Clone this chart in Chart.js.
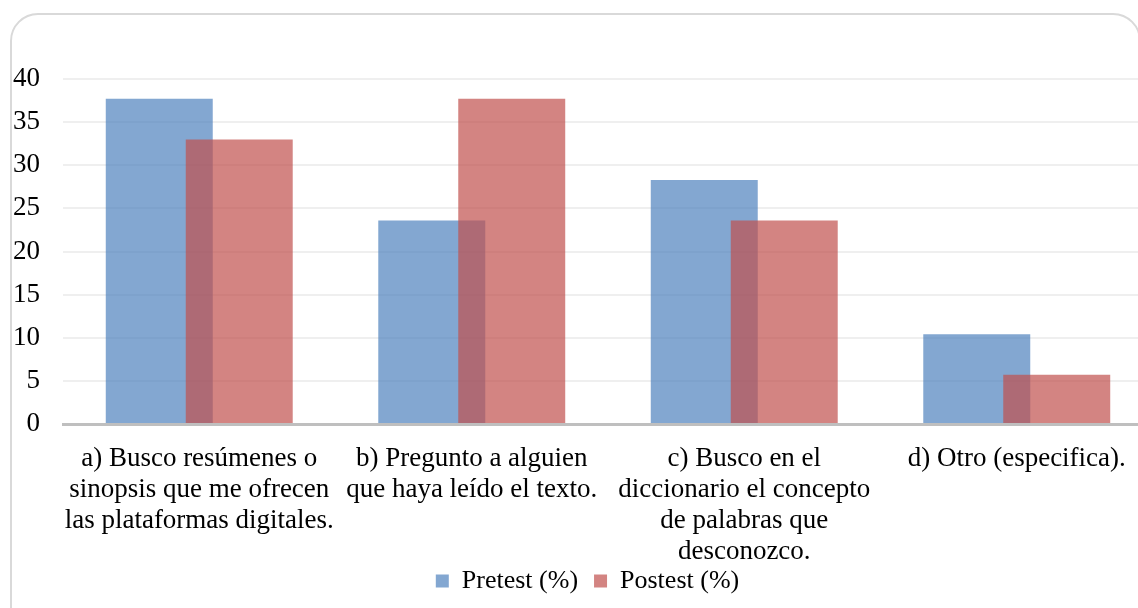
<!DOCTYPE html>
<html><head><meta charset="utf-8">
<script src="https://cdn.jsdelivr.net/npm/chart.js@4"></script>
<style>
html,body{margin:0;padding:0;background:#fff;overflow:hidden;width:1138px;height:608px}
#wrap{position:absolute;left:0;top:0;width:1170px;height:608px}
</style></head><body><div id="wrap"><canvas id="c"></canvas></div>
<script>
const categories = [
  ["a) Busco resúmenes o", "sinopsis que me ofrecen", "las plataformas digitales."],
  ["b) Pregunto a alguien", "que haya leído el texto."],
  ["c) Busco en el", "diccionario el concepto", "de palabras que", "desconozco."],
  ["d) Otro (especifica)."]
];
const seriesNames = ["Pretest (%)", "Postest (%)"];
const pretest = [37.7, 23.6, 28.3, 10.4];
const postest = [33.0, 37.7, 23.6, 5.7];
const yMin = 0, yMax = 40, yStep = 5;

const FONT = "'Liberation Serif', 'Times New Roman', serif";

const frame = {
  id: 'frame',
  beforeDraw(chart) {
    const ctx = chart.ctx;
    ctx.save();
    ctx.strokeStyle = '#d9d9d9';
    ctx.lineWidth = 2;
    ctx.beginPath();
    ctx.roundRect(11, 14, 1129, 640, 27);
    ctx.stroke();
    ctx.restore();
  }
};
const drawOrder = {
  id: 'drawOrder',
  beforeDatasetsDraw(chart) {
    for (let i = 0; i < chart.data.datasets.length; i++) {
      if (chart.isDatasetVisible(i)) chart.getDatasetMeta(i).controller.draw();
    }
    return false;
  }
};
function noLabelClip(s) { s._computeLabelArea = () => undefined; }

new Chart(document.getElementById('c'), {
  type: 'bar',
  data: {
    labels: categories,
    datasets: [
      { label: seriesNames[0], data: pretest, backgroundColor: 'rgba(79,129,189,0.7)', borderWidth: 0 },
      { label: seriesNames[1], data: postest, backgroundColor: 'rgba(192,80,77,0.7)', borderWidth: 0 }
    ]
  },
  options: {
    responsive: true,
    maintainAspectRatio: false,
    animation: false,
    categoryPercentage: 0.587,
    barPercentage: 1.3375,
    layout: { padding: { top: 79, right: 17, bottom: 4, left: 22 } },
    plugins: {
      tooltip: { enabled: false },
      legend: {
        position: 'bottom',
        labels: {
          boxWidth: 13, boxHeight: 13, padding: 16,
          color: '#000',
          font: { family: FONT, size: 26 }
        }
      }
    },
    scales: {
      x: {
        grid: { display: false, drawTicks: false },
        border: { display: true, color: '#bfbfbf', width: 3 },
        ticks: {
          color: '#000', font: { family: FONT, size: 27, lineHeight: 1.15 },
          padding: 19, autoSkip: false, maxRotation: 0, minRotation: 0
        },
        afterFit(s) { s.height = 128; },
        afterUpdate: noLabelClip
      },
      y: {
        min: yMin, max: yMax,
        grid: { color: '#efefef', lineWidth: 2, drawTicks: false },
        border: { display: false },
        ticks: { stepSize: yStep, color: '#000', font: { family: FONT, size: 27 }, padding: 23 },
        afterFit(s) { s.width = 41; },
        afterUpdate: noLabelClip
      }
    }
  },
  plugins: [frame, drawOrder]
});
</script></body></html>
